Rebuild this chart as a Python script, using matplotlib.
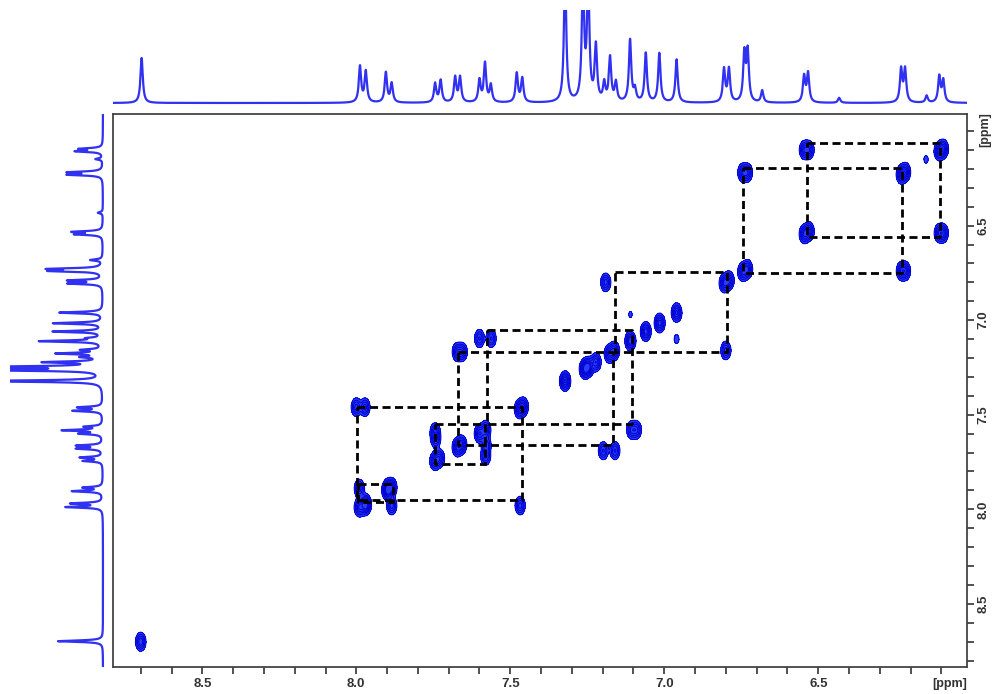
import numpy as np
import matplotlib
matplotlib.use("Agg")
import matplotlib.pyplot as plt
from matplotlib.ticker import MultipleLocator, FuncFormatter

# ---------------- data ----------------
# 1D projection (ppm, apex height in arbitrary units)
proj_ppm = [8.697, 7.988, 7.969, 7.904, 7.885, 7.744, 7.726, 7.679, 7.663,
            7.600, 7.582, 7.563, 7.479, 7.461, 7.322, 7.264, 7.247, 7.222,
            7.195, 7.176, 7.157, 7.111, 7.095, 7.060, 7.016, 6.960, 6.806,
            6.790, 6.740, 6.729, 6.682, 6.546, 6.533, 6.432, 6.231, 6.218,
            6.148, 6.107, 6.094]
proj_height = [45, 36, 31, 30, 19, 19, 22, 25, 25,
               22, 39, 17, 29, 24, 130, 120, 120, 55,
               18, 44, 19, 62, 12, 49, 49, 43, 33,
               33, 48, 50, 12, 26, 29, 5, 33, 33,
               7, 26, 22]

# 2D peaks: diagonal
diag_ppm = [8.70, 7.99, 7.97, 7.90, 7.885, 7.745, 7.73, 7.672, 7.658, 7.60,
            7.58, 7.47, 7.458, 7.322, 7.258, 7.246, 7.222, 7.178, 7.162, 7.11,
            7.06, 7.015, 6.96, 6.805, 6.79, 6.745, 6.73, 6.545, 6.53, 6.23,
            6.217, 6.107, 6.094, 6.15]
diag_amp = [1.0, 1.0, 1.0, 1.0, 1.0, 0.9, 0.9, 1.0, 1.0, 1.0,
            1.0, 1.0, 1.0, 1.4, 1.3, 1.3, 1.0, 1.0, 1.0, 1.3,
            1.2, 1.2, 1.1, 1.0, 1.0, 1.0, 1.0, 1.0, 1.0, 1.0,
            1.0, 1.0, 1.0, 0.18]

# 2D peaks: cross peaks (F2 ppm, F1 ppm, amplitude)
cross_x = [6.545, 6.53, 6.107, 6.094, 6.745, 6.73, 6.23, 6.217, 7.19, 6.80,
           7.60, 7.562, 7.106, 7.09, 7.672, 7.656, 7.198, 7.16, 8.00, 7.972,
           7.468, 7.99, 7.97, 7.895, 7.885, 7.744, 7.742, 7.58, 7.578, 6.96,
           7.11]
cross_y = [6.10, 6.10, 6.54, 6.54, 6.22, 6.22, 6.74, 6.74, 6.80, 7.16,
           7.097, 7.097, 7.58, 7.58, 7.168, 7.168, 7.69, 7.69, 7.46, 7.46,
           7.98, 7.89, 7.98, 7.89, 7.98, 7.59, 7.63, 7.72, 7.66, 7.10,
           6.97]
cross_amp = [0.9, 0.9, 0.9, 0.9, 0.9, 0.9, 0.9, 0.9, 0.9, 0.9,
             0.8, 0.8, 0.8, 0.8, 0.9, 0.9, 0.8, 0.8, 0.9, 0.9,
             0.9, 0.9, 0.9, 0.9, 0.9, 0.8, 0.7, 0.8, 0.7, 0.2,
             0.16]

# dashed coupling boxes: (F2 left, F2 right, F1 top, F1 bottom)
box_x1 = [6.537, 6.743, 7.160, 7.669, 7.577, 7.744, 7.999, 7.993]
box_x2 = [6.105, 6.229, 6.797, 7.166, 7.106, 7.582, 7.463, 7.880]
box_y1 = [6.065, 6.194, 6.744, 7.168, 7.053, 7.547, 7.459, 7.864]
box_y2 = [6.559, 6.753, 7.168, 7.661, 7.547, 7.759, 7.952, 7.962]

x_lim = (8.791, 6.018)
y_lim = (8.832, 5.910)
x_labels = [8.5, 8.0, 7.5, 7.0, 6.5]
y_labels = [6.5, 7.0, 7.5, 8.0, 8.5]

# ---------------- figure ----------------
W, H = 993, 694
fig = plt.figure(figsize=(W / 100, H / 100), dpi=100)
fig.patch.set_facecolor("white")

def px_axes(x0, y0, x1, y1):
    return fig.add_axes([x0 / W, 1 - y1 / H, (x1 - x0) / W, (y1 - y0) / H])

L, R, T, B = 112.7, 966.7, 114.0, 666.7
ax = px_axes(L, T, R, B)
ax_top = px_axes(L, 10, R, 108)
ax_left = px_axes(10, T, 108, B)

blue = "#1a1af0"

# 1D spectrum
s = np.linspace(5.9, 8.9, 12000)
hw = 0.0045
spec = np.zeros_like(s)
for p, h in zip(proj_ppm, proj_height):
    spec += h / (1 + ((s - p) / hw) ** 2)

ax_top.plot(s, spec, color=blue, lw=1.6, alpha=0.9)
ax_top.set_xlim(*x_lim)
ax_top.set_ylim(-5, 93)
ax_top.axis("off")

ax_left.plot(spec, s, color=blue, lw=1.6, alpha=0.9)
ax_left.set_ylim(*y_lim)
ax_left.set_xlim(93, -5)
ax_left.axis("off")

# 2D map
xg = np.linspace(6.0, 8.8, 1500)
yg = np.linspace(5.9, 8.85, 900)
Z = np.zeros((len(yg), len(xg)))
sx, sy = 0.0085, 0.025
allx = list(diag_ppm) + list(cross_x)
ally = list(diag_ppm) + list(cross_y)
alla = list(diag_amp) + list(cross_amp)
for px_, py_, a in zip(allx, ally, alla):
    Z += a * np.exp(-0.5 * ((yg[:, None] - py_) / sy) ** 2) * \
        np.exp(-0.5 * ((xg[None, :] - px_) / sx) ** 2)

ax.contourf(xg, yg, Z, levels=[0.13, 100], colors=["#2a3cf5"], zorder=1)
ax.contour(xg, yg, Z, levels=[0.13, 0.3, 0.5, 0.75, 1.0, 1.3],
           colors=["#0000d0"], linewidths=0.7, zorder=2)

for x1, x2, y1, y2 in zip(box_x1, box_x2, box_y1, box_y2):
    ax.plot([x1, x2, x2, x1, x1], [y1, y1, y2, y2, y1], color="black",
            lw=2.0, linestyle=(0, (2.9, 1.6)), zorder=3)

ax.set_xlim(*x_lim)
ax.set_ylim(*y_lim)

fam = ["Liberation Sans Narrow", "Liberation Sans", "DejaVu Sans"]

def make_fmt(labels):
    def f(v, pos):
        for l in labels:
            if abs(v - l) < 1e-6:
                return "%.1f" % l
        return ""
    return FuncFormatter(f)

ax.xaxis.set_major_locator(MultipleLocator(0.1))
ax.yaxis.set_major_locator(MultipleLocator(0.1))
ax.xaxis.set_major_formatter(make_fmt(x_labels))
ax.yaxis.set_major_formatter(make_fmt(y_labels))
ax.yaxis.tick_right()
ax.tick_params(axis="both", direction="out", length=5, width=1.2, color="#333333",
               labelsize=9.5, labelcolor="#333333", pad=3)
ax.tick_params(axis="y", left=False, labelleft=False, right=True, labelright=True)
for lab in ax.get_xticklabels():
    lab.set_family(fam)
    lab.set_fontweight("bold")
for lab in ax.get_yticklabels():
    lab.set_family(fam)
    lab.set_fontweight("bold")
    lab.set_rotation(90)
    lab.set_va("center")
for sp in ax.spines.values():
    sp.set_color("#444444")
    sp.set_linewidth(1.3)

fig.text(950 / W, 1 - 684 / H, "[ppm]", family=fam, fontweight="bold", fontsize=9,
         color="#333333", ha="center", va="center")
fig.text(985 / W, 1 - 130 / H, "[ppm]", family=fam, fontweight="bold", fontsize=9,
         color="#333333", ha="center", va="center", rotation=90)

fig.savefig("out.png", dpi=100)
